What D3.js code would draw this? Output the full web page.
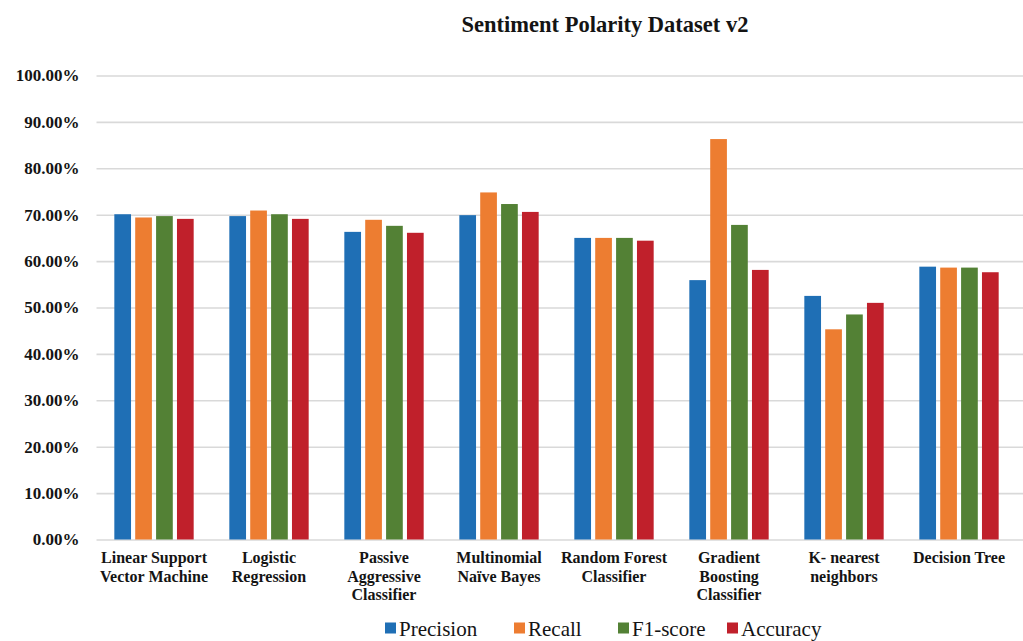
<!DOCTYPE html>
<html>
<head>
<meta charset="utf-8">
<script src="https://cdn.jsdelivr.net/npm/d3@7"></script>
<style>
  html, body { margin: 0; padding: 0; background: #ffffff; }
  svg { display: block; }
</style>
</head>
<body>
<svg id="chart" width="1023" height="641"></svg>
<script>
// Classifier performance on the Sentiment Polarity Dataset v2
const classifiers = [
  ["Linear Support", "Vector Machine"],
  ["Logistic", "Regression"],
  ["Passive", "Aggressive", "Classifier"],
  ["Multinomial", "Naïve Bayes"],
  ["Random Forest", "Classifier"],
  ["Gradient", "Boosting", "Classifier"],
  ["K- nearest", "neighbors"],
  ["Decision Tree"]
];
const metrics = ["Precision", "Recall", "F1-score", "Accuracy"];
const precision = [70.1, 69.7, 66.3, 69.9, 65.0, 55.9, 52.5, 58.8];
const recall    = [69.4, 70.9, 68.9, 74.8, 65.0, 86.3, 45.3, 58.6];
const f1score   = [69.7, 70.1, 67.6, 72.3, 65.0, 67.8, 48.5, 58.6];
const accuracy  = [69.1, 69.1, 66.1, 70.6, 64.4, 58.1, 51.0, 57.6];
const yTicks = [0, 10, 20, 30, 40, 50, 60, 70, 80, 90, 100];
const colors = ["#1f6fb5", "#ed7d31", "#538135", "#c0202b"];

const seriesValues = [precision, recall, f1score, accuracy];
const rows = classifiers.map((c, i) => ({
  key: i,
  lines: c,
  values: metrics.map((m, j) => ({ metric: m, value: seriesValues[j][i] }))
}));

const svg = d3.select("#chart");
const margin = { left: 96.5, right: 6.5, top: 75.5, bottom: 101.5 };
const W = 1023, H = 641;
const serif = "'Liberation Serif', 'Times New Roman', serif";

const x0 = d3.scaleBand()
  .domain(rows.map(r => r.key))
  .range([margin.left, W - margin.right])
  .paddingInner(0.31)
  .paddingOuter(0.155);

const x1 = d3.scaleBand()
  .domain(metrics)
  .range([0, x0.bandwidth()])
  .paddingInner(0.2);

const y = d3.scaleLinear()
  .domain([0, 100])
  .range([H - margin.bottom, margin.top]);

const color = d3.scaleOrdinal().domain(metrics).range(colors);

// Title
svg.append("text")
  .attr("x", 605)
  .attr("y", 32)
  .attr("text-anchor", "middle")
  .style("font-family", serif)
  .style("font-weight", "bold")
  .style("font-size", "22.5px")
  .attr("fill", "#141414")
  .text("Sentiment Polarity Dataset v2");

// Horizontal gridlines and y-axis labels
const yAxis = d3.axisLeft(y)
  .tickValues(yTicks)
  .tickSize(-(W - margin.left))
  .tickPadding(17)
  .tickFormat(d => d3.format(".2f")(d) + "%");

const gy = svg.append("g")
  .attr("transform", `translate(${margin.left},0)`)
  .call(yAxis);
gy.select(".domain").remove();
gy.selectAll(".tick line")
  .attr("stroke", "#d9d9d9")
  .attr("stroke-width", 1.6);
gy.selectAll(".tick text")
  .style("font-family", serif)
  .style("font-weight", "bold")
  .style("font-size", "17px")
  .attr("fill", "#141414");

// Bars
const groups = svg.append("g")
  .selectAll("g")
  .data(rows)
  .join("g")
  .attr("transform", d => `translate(${x0(d.key)},0)`);

groups.selectAll("rect")
  .data(d => d.values)
  .join("rect")
  .attr("x", d => x1(d.metric))
  .attr("y", d => y(d.value))
  .attr("width", x1.bandwidth())
  .attr("height", d => y(0) - y(d.value))
  .attr("fill", d => color(d.metric));

// Category labels below the axis
const xLabels = svg.append("g")
  .selectAll("text")
  .data(rows)
  .join("text")
  .attr("x", d => x0(d.key) + x0.bandwidth() / 2)
  .attr("y", 563)
  .attr("text-anchor", "middle")
  .style("font-family", serif)
  .style("font-weight", "bold")
  .style("font-size", "16px")
  .attr("fill", "#141414");

xLabels.selectAll("tspan")
  .data(d => d.lines)
  .join("tspan")
  .attr("x", function () { return d3.select(this.parentNode).attr("x"); })
  .attr("dy", (d, i) => i === 0 ? 0 : 18.5)
  .text(d => d);

// Legend
const legendX = [385, 514, 618, 727];
const legend = svg.append("g")
  .selectAll("g")
  .data(metrics)
  .join("g")
  .attr("transform", (d, i) => `translate(${legendX[i]},0)`);

legend.append("rect")
  .attr("x", 0)
  .attr("y", 622.5)
  .attr("width", 11)
  .attr("height", 11)
  .attr("fill", d => color(d));

legend.append("text")
  .attr("x", 14)
  .attr("y", 635.5)
  .style("font-family", serif)
  .style("font-size", "21px")
  .attr("fill", "#141414")
  .text(d => d);
</script>
</body>
</html>
